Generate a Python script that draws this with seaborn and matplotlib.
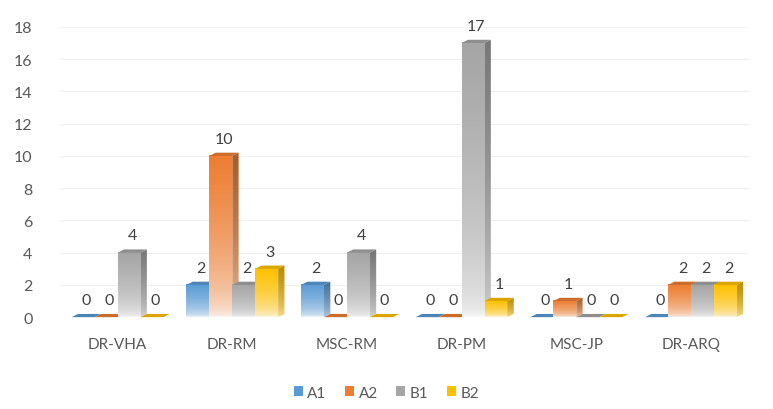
import numpy as np
import pandas as pd
import matplotlib
matplotlib.use("Agg")
import matplotlib.pyplot as plt
from matplotlib.patches import Polygon, Patch
from matplotlib.colors import to_rgb
import seaborn as sns

categories = ["DR-VHA", "DR-RM", "MSC-RM", "DR-PM", "MSC-JP", "DR-ARQ"]
series = ["A1", "A2", "B1", "B2"]
a1 = [0, 2, 2, 0, 0, 0]
a2 = [0, 10, 0, 0, 1, 2]
b1 = [4, 2, 4, 17, 0, 2]
b2 = [0, 3, 0, 1, 0, 2]
colors = ["#5B9BD5", "#ED7D31", "#A5A5A5", "#FFC000"]
yticks = list(range(0, 19, 2))

sns.set_theme(style="white")
plt.rcParams["font.family"] = ["Lato", "DejaVu Sans"]
text_color = "#595959"

df = pd.DataFrame({
    "cat": np.repeat(categories, len(series)),
    "serie": series * len(categories),
    "val": np.array([a1, a2, b1, b2]).T.ravel(),
})

fig = plt.figure(figsize=(7.73, 4.10), dpi=100)
ax = fig.add_axes([0.078, 0.224, 0.89, 0.708])

sns.barplot(data=df, x="cat", y="val", hue="serie", hue_order=series,
            order=categories, palette=colors, width=0.8, ax=ax,
            legend=False, errorbar=None)

ax.set_ylim(0, 18)
ax.set_xlim(-0.5, 5.5)
ax.set_yticks(yticks)
ax.set_yticklabels([str(t) for t in yticks])
ax.set_xlabel("")
ax.set_ylabel("")
ax.grid(axis="y", color="#F0F0F0", linewidth=0.8)
ax.set_axisbelow(True)
for s in ax.spines.values():
    s.set_visible(False)
ax.tick_params(axis="y", length=0, pad=20, labelsize=11.5, labelcolor=text_color)
ax.tick_params(axis="x", length=0, pad=14, labelsize=11, labelcolor=text_color)

dx = 0.055  # depth offset in category units
dy = 0.2    # depth offset in value units


def shade(c, f):
    r, g, b = to_rgb(c)
    return (r * f, g * f, b * f)


for si, cont in enumerate(ax.containers):
    base = np.array(to_rgb(colors[si]))
    for ci, bar in enumerate(cont):
        x0 = bar.get_x()
        w = bar.get_width()
        h = bar.get_height()
        x1 = x0 + w
        z = 3 + bar.get_x() * 2
        bar.set_facecolor("none")
        bar.set_edgecolor("none")
        if h > 0:
            # vertical fade: full colour at top, almost white at the base
            t = np.linspace(1, 0, 200) ** 0.45
            white = np.ones(3) * 0.98
            rgb = base[None, :] * t[:, None] + white[None, :] * (1 - t[:, None])
            img = rgb[:, None, :]
            ax.imshow(img, extent=(x0, x1, 0, h), aspect="auto", zorder=z,
                      interpolation="bilinear")
            side_t = np.linspace(1, 0, 200) ** 0.6
            side_base = np.array(shade(colors[si], 0.72))
            side_rgb = side_base[None, :] * side_t[:, None] + \
                np.array(shade(colors[si], 1.0))[None, :] * (1 - side_t[:, None]) * 0.4 + \
                white[None, :] * (1 - side_t[:, None]) * 0.6
            side = Polygon([(x1, 0), (x1 + dx, dy), (x1 + dx, h + dy), (x1, h)],
                           closed=True, facecolor="none", edgecolor="none", zorder=z)
            ax.add_patch(side)
            simg = ax.imshow(side_rgb[:, None, :], extent=(x1, x1 + dx, 0, h + dy),
                             aspect="auto", zorder=z, interpolation="bilinear")
            simg.set_clip_path(side)
        top = Polygon([(x0, h), (x1, h), (x1 + dx, h + dy), (x0 + dx, h + dy)],
                      closed=True, facecolor=shade(colors[si], 0.86),
                      edgecolor="none", zorder=z + 0.1, clip_on=False)
        ax.add_patch(top)
        ax.annotate(f"{int(h)}", (x0 + w / 2 + dx / 2, h + dy), xytext=(0, 5),
                    textcoords="offset points", ha="center", va="bottom",
                    fontsize=11.5, color="#404040", zorder=50)

ax.set_xlim(-0.5, 5.5)
ax.set_ylim(0, 18)

handles = [Patch(facecolor=c, edgecolor="none") for c in colors]
fig.legend(handles, series, loc="center", bbox_to_anchor=(0.5, 0.04), ncol=4,
           frameon=False, fontsize=11, handlelength=0.6, handleheight=0.6,
           handletextpad=0.3, columnspacing=1.2, labelcolor=text_color)

fig.savefig("out.png", dpi=100)
